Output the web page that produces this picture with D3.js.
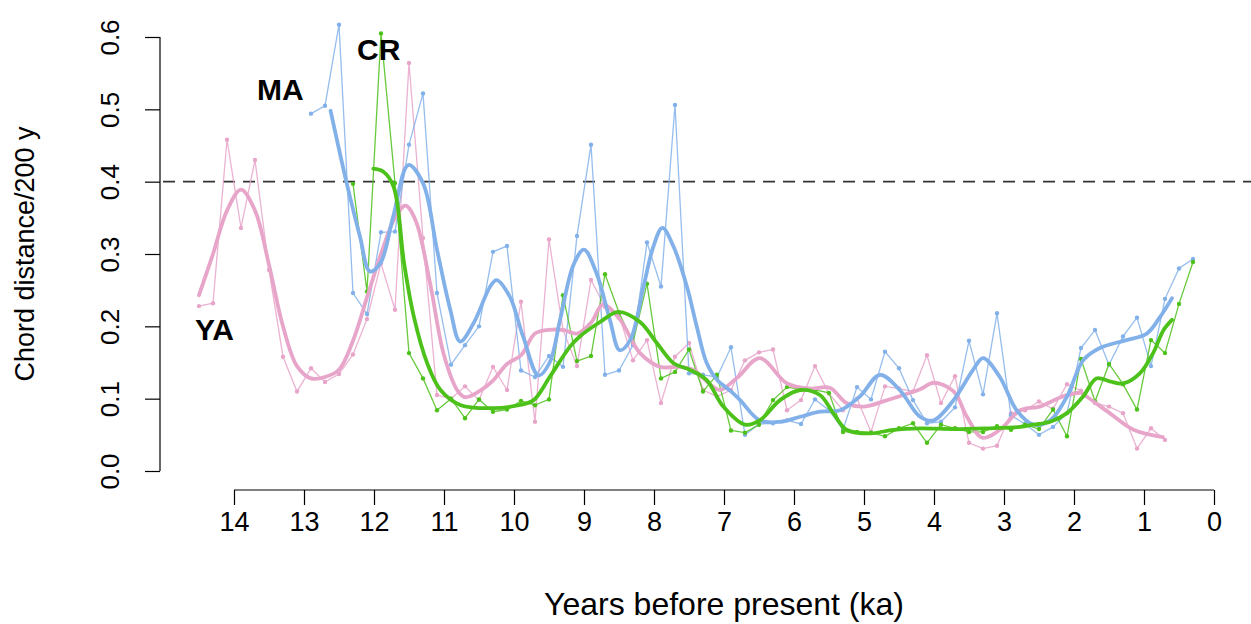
<!DOCTYPE html>
<html>
<head>
<meta charset="utf-8">
<script src="https://cdn.jsdelivr.net/npm/d3@7"></script>
<style>
  html, body { margin: 0; padding: 0; background: #fff; }
  svg { display: block; }
  text { font-family: "Liberation Sans", Arial, Helvetica, sans-serif; fill: #000; }
</style>
</head>
<body>
<svg id="chart" width="1251" height="624"></svg>
<script>
// ---------- DATA ----------
const xTicks = [14, 13, 12, 11, 10, 9, 8, 7, 6, 5, 4, 3, 2, 1, 0];
const yTicks = [0.0, 0.1, 0.2, 0.3, 0.4, 0.5, 0.6];
const threshold = 0.4;

// YA (pink) raw
const yaAge = [14.5,14.3,14.1,13.9,13.7,13.5,13.3,13.1,12.9,12.7,12.5,12.3,12.1,11.9,11.7,11.5,11.3,11.1,10.9,10.7,10.5,10.3,10.1,9.9,9.7,9.5,9.3,9.1,8.9,8.7,8.5,8.3,8.1,7.9,7.7,7.5,7.3,7.1,6.9,6.7,6.5,6.3,6.1,5.9,5.7,5.5,5.3,5.1,4.9,4.7,4.5,4.3,4.1,3.9,3.7,3.5,3.3,3.1,2.9,2.7,2.5,2.3,2.1,1.9,1.7,1.5,1.3,1.1,0.9,0.7];
const yaDist = [0.228,0.232,0.458,0.336,0.43,0.278,0.158,0.110,0.142,0.123,
  0.134,0.161,0.21,0.287,0.223,0.564,0.322,0.105,0.1,0.117,
  0.098,0.144,0.112,0.234,0.068,0.32,0.195,0.145,0.264,0.227,
  0.216,0.153,0.181,0.094,0.158,0.177,0.112,0.103,0.112,0.153,
  0.164,0.168,0.084,0.098,0.145,0.107,0.084,0.1,0.054,0.117,
  0.114,0.11,0.16,0.094,0.131,0.039,0.031,0.035,0.08,0.084,
  0.096,0.086,0.12,0.111,0.094,0.089,0.08,0.031,0.059,0.043];
// YA smooth
const yaSmoothAge = [14.5,14.3,14.1,13.9,13.7,13.5,13.3,13.1,12.9,12.7,12.5,12.3,12.1,11.9,11.7,11.55,11.4,11.2,11.0,10.8,10.7,10.5,10.3,10.1,9.9,9.7,9.5,9.3,9.1,8.9,8.73,8.49,8.2,7.91,7.63,7.44,7.2,7.06,6.8,6.49,6.1,5.77,5.49,5.25,5.01,4.7,4.44,4.2,4.0,3.72,3.53,3.31,3.06,2.77,2.49,2.16,1.9,1.82,1.49,1.15,0.73];
const yaSmoothDist = [0.243,0.3,0.36,0.389,0.36,0.285,0.2,0.145,0.128,0.13,0.14,0.18,0.24,0.3,0.35,0.367,0.345,0.26,0.16,0.11,0.102,0.11,0.125,0.148,0.16,0.19,0.195,0.195,0.19,0.205,0.23,0.21,0.163,0.144,0.144,0.14,0.12,0.112,0.13,0.156,0.121,0.114,0.115,0.094,0.089,0.097,0.105,0.113,0.122,0.11,0.075,0.046,0.057,0.084,0.089,0.103,0.108,0.103,0.08,0.057,0.047];

// MA (blue) raw
const maAge = [12.9,12.7,12.5,12.3,12.1,11.9,11.7,11.5,11.3,11.1,10.9,10.7,10.5,10.3,10.1,9.9,9.7,9.5,9.3,9.1,8.9,8.7,8.5,8.3,8.1,7.9,7.7,7.5,7.3,7.1,6.9,6.7,6.5,6.3,6.1,5.9,5.7,5.5,5.3,5.1,4.9,4.7,4.5,4.3,4.1,3.9,3.7,3.5,3.3,3.1,2.9,2.7,2.5,2.3,2.1,1.9,1.7,1.5,1.3,1.1,0.9,0.7,0.5,0.3];
const maDist = [0.494,0.505,0.617,0.246,0.217,0.33,0.331,0.451,0.522,0.246,
  0.147,0.174,0.2,0.303,0.311,0.139,0.13,0.159,0.144,0.325,
  0.451,0.133,0.139,0.174,0.316,0.255,0.506,0.135,0.133,0.13,
  0.171,0.05,0.065,0.066,0.07,0.065,0.099,0.084,0.057,0.116,
  0.099,0.165,0.142,0.098,0.066,0.068,0.088,0.18,0.106,0.218,
  0.077,0.065,0.05,0.061,0.08,0.17,0.195,0.147,0.186,0.212,
  0.145,0.238,0.28,0.293];
const maSmoothAge = [12.62,12.39,12.2,12.06,11.91,11.73,11.51,11.3,11.1,10.91,10.77,10.58,10.34,10.25,10.06,9.87,9.65,9.49,9.34,9.15,9.0,8.82,8.63,8.49,8.34,8.15,8.01,7.88,7.72,7.53,7.39,7.25,7.1,6.9,6.77,6.49,6.2,5.91,5.63,5.34,5.06,4.77,4.49,4.2,4.01,3.72,3.44,3.3,3.06,2.82,2.58,2.34,2.1,1.87,1.63,1.25,0.96,0.77,0.6];
const maSmoothDist = [0.498,0.398,0.324,0.276,0.287,0.35,0.423,0.398,0.306,0.223,0.179,0.204,0.255,0.264,0.241,0.186,0.132,0.15,0.21,0.285,0.306,0.273,0.209,0.167,0.181,0.255,0.31,0.336,0.31,0.255,0.2,0.15,0.126,0.11,0.098,0.07,0.068,0.075,0.082,0.084,0.103,0.133,0.112,0.075,0.07,0.098,0.14,0.156,0.13,0.084,0.064,0.07,0.103,0.153,0.17,0.181,0.19,0.213,0.239];

// CR (green) raw
const crAge = [12.3,12.1,11.9,11.7,11.5,11.3,11.1,10.9,10.7,10.5,10.3,10.1,9.9,9.7,9.5,9.3,9.1,8.9,8.7,8.5,8.3,8.1,7.9,7.7,7.5,7.3,7.1,6.9,6.7,6.5,6.3,6.1,5.9,5.7,5.5,5.3,5.1,4.9,4.7,4.5,4.3,4.1,3.9,3.7,3.5,3.3,3.1,2.9,2.7,2.5,2.3,2.1,1.9,1.7,1.5,1.3,1.1,0.9,0.7,0.5,0.3];
const crDist = [0.397,0.248,0.605,0.398,0.163,0.128,0.084,0.1,0.073,0.099,
  0.082,0.085,0.097,0.091,0.099,0.243,0.152,0.159,0.272,0.219,
  0.178,0.259,0.128,0.137,0.168,0.11,0.133,0.056,0.053,0.064,
  0.098,0.116,0.113,0.112,0.108,0.054,0.054,0.053,0.048,0.059,
  0.066,0.039,0.064,0.059,0.054,0.054,0.062,0.057,0.064,0.058,
  0.085,0.048,0.155,0.096,0.148,0.12,0.085,0.181,0.163,0.231,
  0.289];
const crSmoothAge = [12.01,11.87,11.72,11.57,11.43,11.24,11.05,10.76,10.3,9.93,9.72,9.49,9.2,9.06,8.77,8.51,8.2,7.96,7.72,7.49,7.25,7.01,6.7,6.49,6.2,5.91,5.63,5.44,5.25,4.91,4.58,4.2,3.72,3.25,2.77,2.58,2.34,2.1,1.87,1.68,1.49,1.3,1.06,0.87,0.72,0.6];
const crSmoothDist = [0.418,0.414,0.393,0.287,0.213,0.149,0.112,0.091,0.087,0.091,0.098,0.13,0.172,0.186,0.206,0.22,0.206,0.177,0.149,0.14,0.126,0.089,0.064,0.07,0.098,0.112,0.105,0.08,0.057,0.052,0.057,0.059,0.058,0.059,0.061,0.064,0.068,0.08,0.103,0.128,0.124,0.121,0.135,0.163,0.195,0.209];

const seriesNames = ["YA", "MA", "CR"];
const seriesColors = ["#E8A5CA", "#82B1EA", "#4CC11A"];

// ---------- CHART ----------
const svg = d3.select("#chart");
svg.append("rect").attr("width", 1251).attr("height", 624).attr("fill", "#fff");

const x = d3.scaleLinear().domain([14, 0]).range([234, 1214]);
const y = d3.scaleLinear().domain([0, 0.6]).range([471, 37]);

// x axis
const xAxisG = svg.append("g").attr("transform", "translate(0,490)")
  .call(d3.axisBottom(x).tickValues(xTicks).tickFormat(d3.format("d")).tickSize(15).tickPadding(7));
xAxisG.select(".domain").attr("stroke", "#000").attr("stroke-width", 1.2).attr("d", `M${x(14)},0H${x(0)}`);
xAxisG.selectAll(".tick line").attr("stroke", "#000").attr("stroke-width", 1.2);
xAxisG.selectAll(".tick text").attr("font-size", 27).attr("font-family", "Liberation Sans, Arial, sans-serif").attr("fill", "#000");

// y axis
const yAxisG = svg.append("g").attr("transform", "translate(160,0)")
  .call(d3.axisLeft(y).tickValues(yTicks).tickFormat(d3.format(".1f")).tickSize(15));
yAxisG.select(".domain").attr("stroke", "#000").attr("stroke-width", 1.2).attr("d", `M0,${y(0)}V${y(0.6)}`);
yAxisG.selectAll(".tick line").attr("stroke", "#000").attr("stroke-width", 1.2);
yAxisG.selectAll(".tick text")
  .attr("font-size", 26).attr("font-family", "Liberation Sans, Arial, sans-serif").attr("fill", "#000")
  .attr("x", null).attr("dy", null)
  .attr("text-anchor", "middle")
  .attr("transform", "translate(-41,0) rotate(-90)");

// axis titles
svg.append("text").attr("x", (x(14) + x(0)) / 2).attr("y", 615)
  .attr("text-anchor", "middle").attr("font-size", 32).text("Years before present (ka)");
svg.append("text").attr("transform", `translate(34,${(y(0) + y(0.6)) / 2}) rotate(-90)`)
  .attr("text-anchor", "middle").attr("font-size", 27).text("Chord distance/200 y");

// threshold line
svg.append("line").attr("x1", 163).attr("x2", 1251).attr("y1", y(threshold)).attr("y2", y(threshold))
  .attr("stroke", "#333").attr("stroke-width", 1.6).attr("stroke-dasharray", "12,8");

const raw = [
  {age: yaAge, dist: yaDist},
  {age: maAge, dist: maDist},
  {age: crAge, dist: crDist}
];
const smooth = [
  {age: yaSmoothAge, dist: yaSmoothDist},
  {age: maSmoothAge, dist: maSmoothDist},
  {age: crSmoothAge, dist: crSmoothDist}
];

const thinLine = d3.line().x(d => x(d[0])).y(d => y(d[1]));
const thickLine = d3.line().x(d => x(d[0])).y(d => y(d[1])).curve(d3.curveCatmullRom.alpha(0.5));

raw.forEach((s, i) => {
  const pts = s.age.map((a, j) => [a, s.dist[j]]);
  const g = svg.append("g");
  g.append("path").attr("d", thinLine(pts)).attr("fill", "none")
    .attr("stroke", seriesColors[i]).attr("stroke-width", 1.3).attr("opacity", 0.85);
  g.selectAll("circle").data(pts).join("circle")
    .attr("cx", d => x(d[0])).attr("cy", d => y(d[1])).attr("r", 2.2)
    .attr("fill", seriesColors[i]);
});

smooth.forEach((s, i) => {
  const pts = s.age.map((a, j) => [a, s.dist[j]]);
  svg.append("path").attr("d", thickLine(pts)).attr("fill", "none")
    .attr("stroke", seriesColors[i]).attr("stroke-width", 3.8)
    .attr("stroke-linejoin", "round").attr("stroke-linecap", "round");
});

// series labels
const labelPos = [[195, 340], [257, 100], [357, 60]];
seriesNames.forEach((n, i) => {
  svg.append("text").attr("x", labelPos[i][0]).attr("y", labelPos[i][1])
    .attr("font-size", 30).attr("font-weight", "bold").text(n);
});
</script>
</body>
</html>
